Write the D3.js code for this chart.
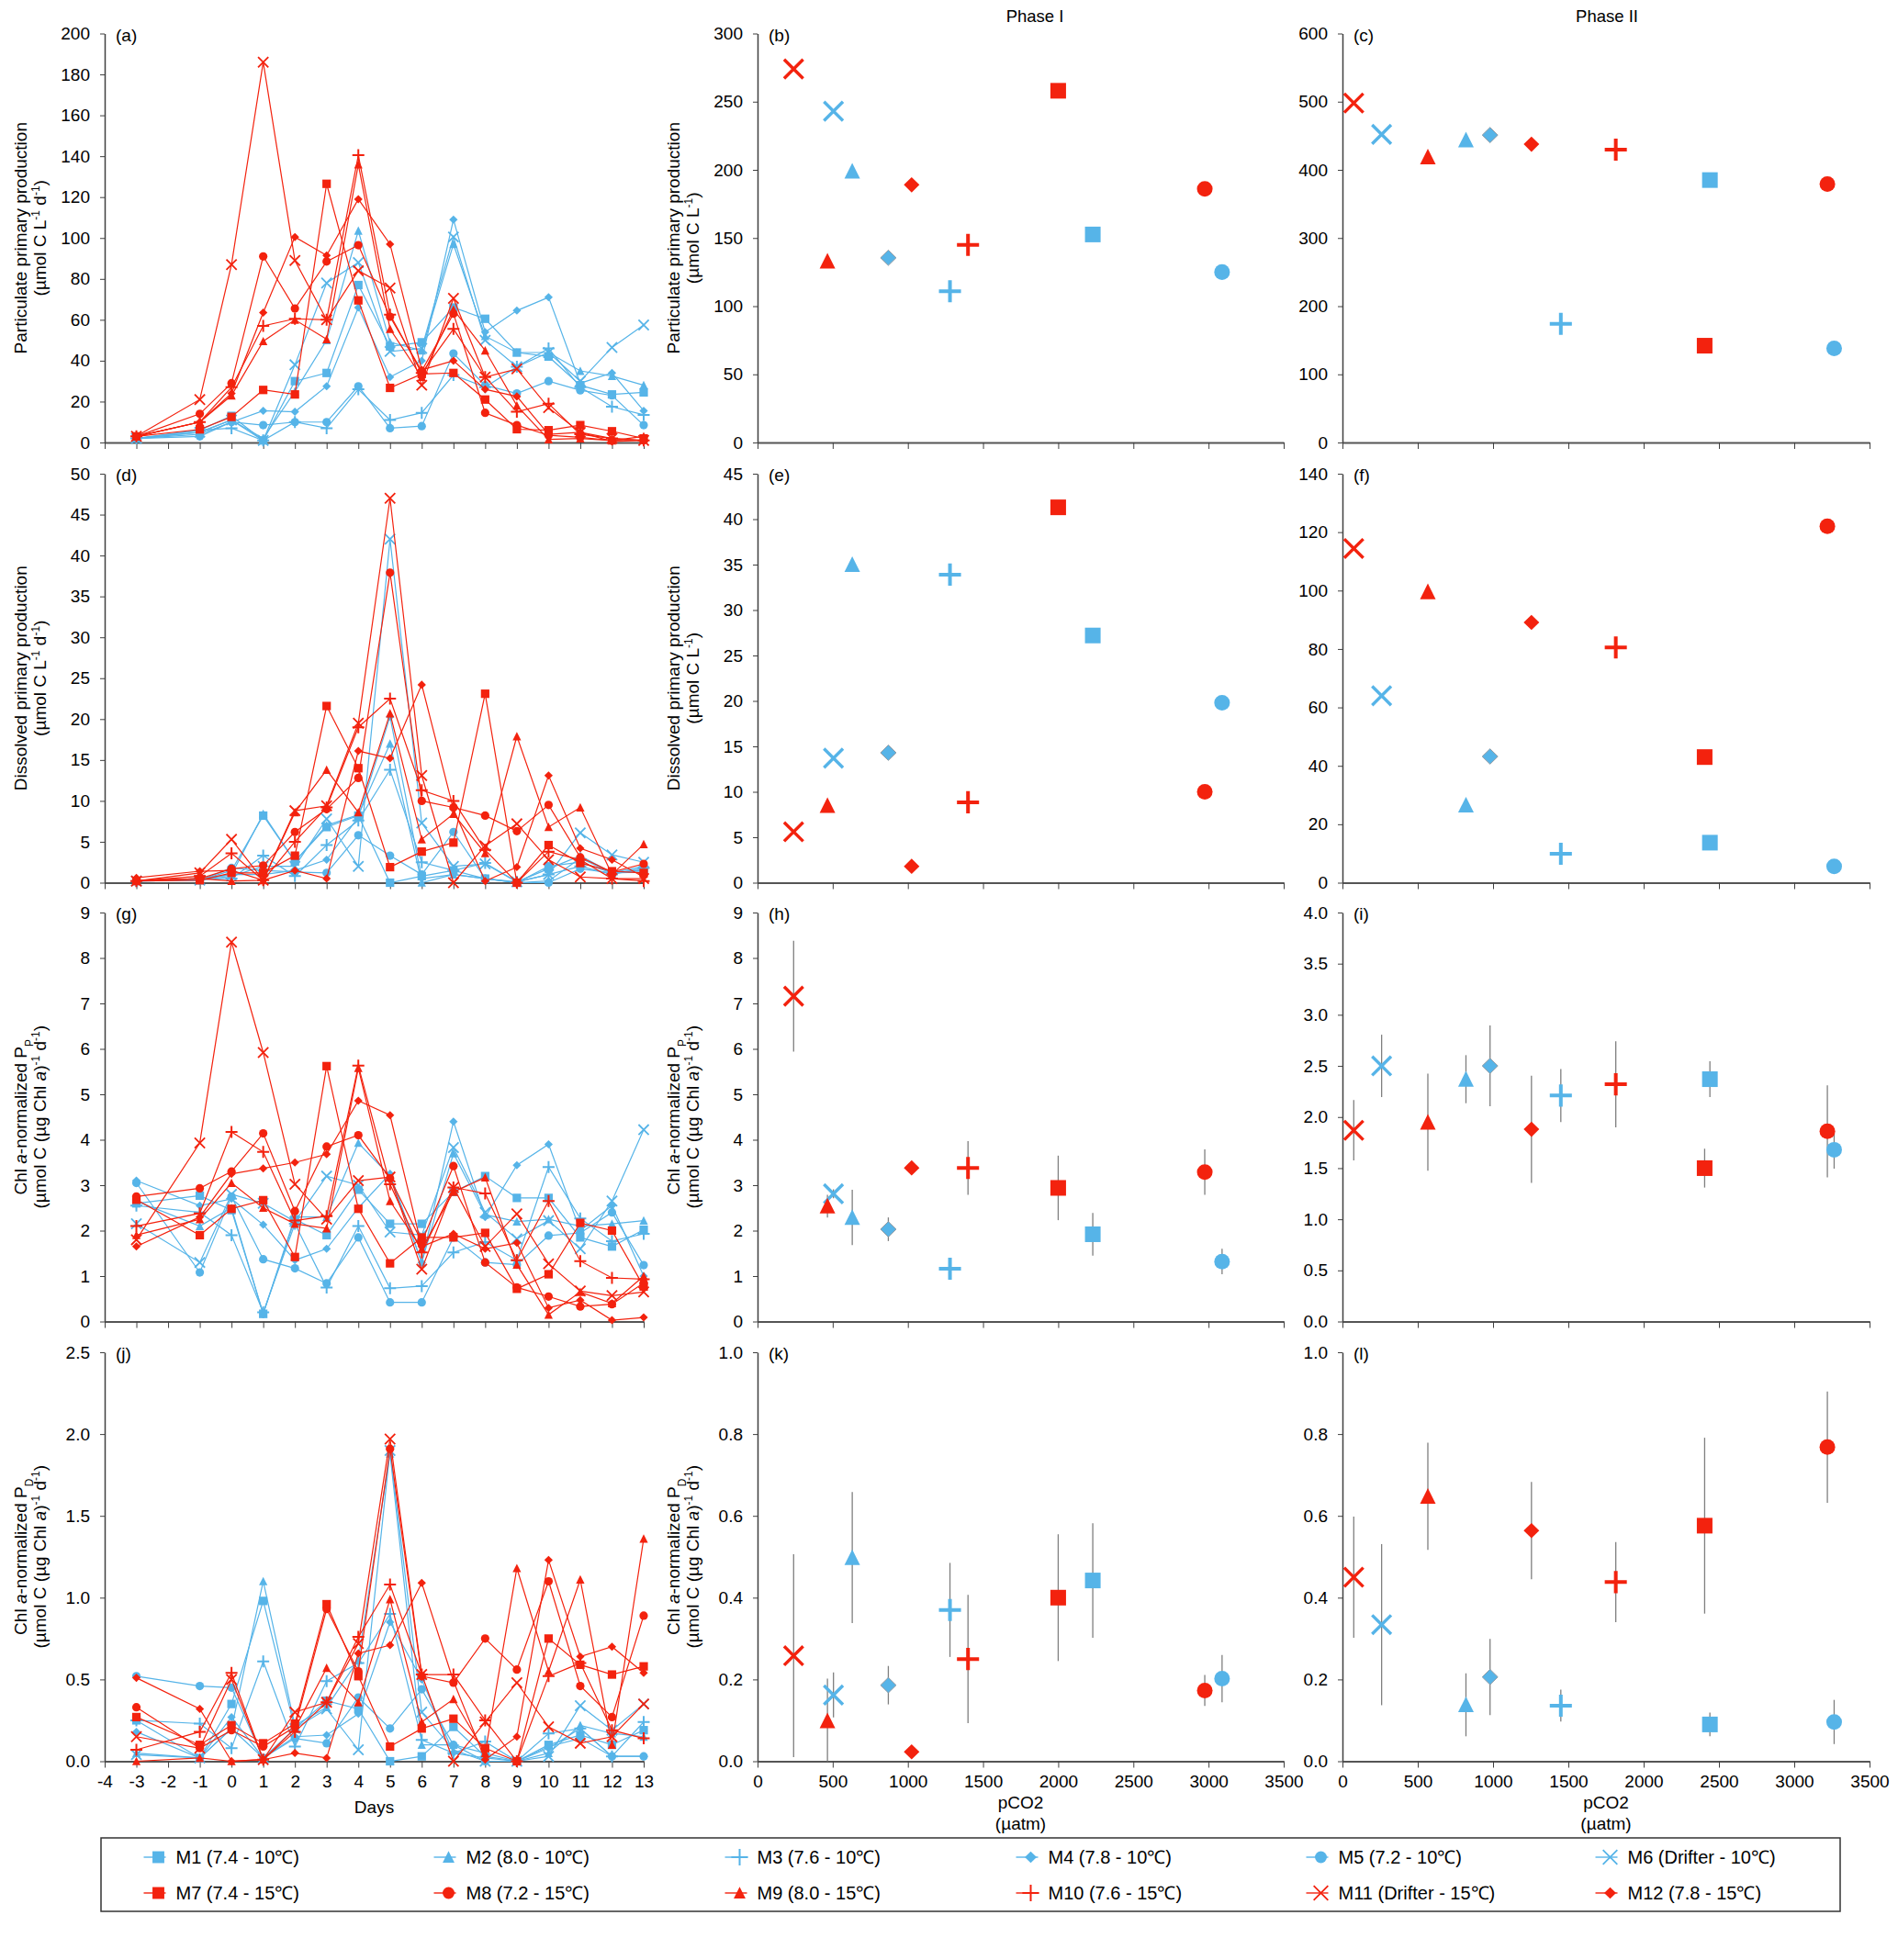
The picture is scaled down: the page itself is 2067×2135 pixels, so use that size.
<!DOCTYPE html>
<html>
<head>
<meta charset="utf-8">
<script src="https://cdn.jsdelivr.net/npm/d3@7"></script>
<style>
body { margin: 0; background: #fff; }
svg { font-family: "Liberation Sans", Arial, sans-serif; }
</style>
</head>
<body>
<svg id="chart" width="2067" height="2135"></svg>
<script>

// ---- data ----
var days = [-3, -1, 0, 1, 2, 3, 4, 5, 6, 7, 8, 9, 10, 11, 12, 13];
var dayTicks = [-4, -3, -2, -1, 0, 1, 2, 3, 4, 5, 6, 7, 8, 9, 10, 11, 12, 13];
var pco2Ticks = [0, 500, 1000, 1500, 2000, 2500, 3000, 3500];

var names = ["M1 (7.4 - 10\u2103)", "M2 (8.0 - 10\u2103)", "M3 (7.6 - 10\u2103)", "M4 (7.8 - 10\u2103)", "M5 (7.2 - 10\u2103)", "M6 (Drifter - 10\u2103)",
             "M7 (7.4 - 15\u2103)", "M8 (7.2 - 15\u2103)", "M9 (8.0 - 15\u2103)", "M10 (7.6 - 15\u2103)", "M11 (Drifter - 15\u2103)", "M12 (7.8 - 15\u2103)"];
var shapes = ["square", "triangle", "plus", "diamond", "circle", "x",
              "square", "circle", "triangle", "plus", "x", "diamond"];

// (a) particulate primary production per day, M1..M12
var ppDaily = [
  [2, 6, 13, 1, 30, 34, 77, 47, 49, 66, 60.5, 44, 42, 28, 23.5, 24.5],
  [2, 5, 11, 2, 25, 50, 103.5, 49, 45, 97, 52, 44, 44, 35, 32.5, 28],
  [2, 6, 7, 1, 10, 7, 26, 11, 14.5, 33, 27, 37, 46, 27, 17.5, 13.5],
  [2, 4, 10, 15.5, 15, 27.5, 66, 32, 40, 109, 54, 64.5, 71, 29, 34, 15.5],
  [2, 3, 10, 8.5, 10, 10, 27.5, 7, 8, 43.5, 28, 24, 30, 25.5, 23, 8.5],
  [2, 5, 11, 1, 38, 78, 88, 44.5, 46, 100.5, 50, 37, 44, 30, 46.5, 57.5],
  [3, 6.4, 12.5, 25.7, 23.5, 126.5, 69.5, 26.7, 33.5, 34, 21, 6.5, 6, 8.5, 5.5, 2],
  [3, 14, 29, 91, 65.5, 88.5, 96.5, 61.5, 35, 63, 14.5, 8.5, 3.5, 2.5, 1, 1],
  [3, 10, 23, 49.5, 60, 50.5, 136, 55.5, 32, 65, 45, 18, 1.5, 2, 1, 3],
  [3, 10, 27, 57, 60.5, 60, 140.5, 62.5, 34, 55.5, 32, 15, 19, 4, 2, 1],
  [3, 21, 87, 186, 89, 60, 84, 75.5, 28, 70.5, 32, 36, 17, 5, 2, 1],
  [3, 10, 24, 63.5, 100.5, 91.5, 119, 97, 35.5, 40, 26, 22.5, 4, 5, 0.5, 1]
];

// (d) dissolved primary production per day
var dpDaily = [
  [0.2, 0.3, 1.5, 8.2, 2.6, 6.8, 8.2, 0, 0.8, 1.5, 0.5, 0, 2, 2.5, 1.2, 1.5],
  [0.2, 0.5, 1, 8.4, 2.6, 7, 8.3, 17, 0, 1, 0.5, 0.1, 1.7, 3.3, 1.2, 2],
  [0.2, 0.5, 0.5, 3.3, 0.8, 4.6, 7.6, 13.8, 2.5, 1.5, 2.4, 0.1, 1, 2, 1, 1.8],
  [0.2, 0.4, 1, 1, 1.5, 2.8, 8, 20.3, 0.5, 1, 0.5, 0, 0.2, 3, 1.2, 1.6],
  [0.2, 0.3, 1.8, 1.5, 1.3, 1.2, 5.8, 3.3, 1, 6.2, 0.5, 0, 0, 1.7, 1.2, 1.3],
  [0.2, 0.3, 0.8, 2, 2, 7.8, 2, 42, 7.3, 2, 2.3, 0.1, 1, 6.1, 3.4, 2.5],
  [0.2, 0.3, 1.2, 1.2, 3.3, 21.6, 14, 1.9, 3.8, 4.9, 23.1, 0, 4.6, 2.4, 1.4, 1.2],
  [0.3, 0.5, 1.7, 2.1, 6.2, 9, 12.8, 37.9, 10, 9.2, 8.2, 6.3, 9.5, 3.1, 1.3, 2.3],
  [0.2, 0.5, 0.2, 0.3, 8.6, 13.8, 8.6, 20.7, 5.3, 8.4, 3.6, 17.9, 6.8, 9.2, 1, 4.7],
  [0.2, 0.8, 3.6, 0.3, 5, 9.2, 19, 22.5, 11.3, 10, 4, 0, 3.8, 2.8, 0.5, 0.2],
  [0.2, 1.2, 5.3, 0.3, 8.8, 9.4, 19.5, 47, 13.1, 0, 4.5, 7.2, 2.8, 0.7, 0.5, 0.5],
  [0.6, 1.4, 1.5, 0.3, 1.5, 0.5, 16.1, 15.2, 24.2, 9, 0.2, 1.9, 13.1, 4.2, 2.8, 0.7]
];

// (g) Chl a-normalized PP per day
var chlPPDaily = [
  [2.6, 2.77, 2.45, 0.17, 2.25, 1.9, 2.9, 2.15, 2.15, 2.85, 3.2, 2.72, 2.72, 1.85, 1.65, 2.02],
  [2.65, 2.1, 2.5, 0.17, 2.3, 2.3, 3.93, 3.2, 1.3, 3.7, 2.35, 2.2, 2.25, 2.1, 2.15, 2.22],
  [2.55, 2.4, 1.9, 0.2, 2.15, 0.75, 2.1, 0.73, 0.78, 1.52, 1.75, 1.35, 3.4, 2.27, 1.77, 1.93],
  [3.1, 2.55, 2.7, 2.13, 1.35, 1.6, 2.5, 3.25, 1.3, 4.4, 2.3, 3.44, 3.9, 2.0, 2.55, 1.0],
  [3.05, 1.08, 2.75, 1.37, 1.17, 0.84, 1.85, 0.42, 0.42, 1.85, 1.3, 1.25, 1.89, 1.95, 2.4, 1.24],
  [2.15, 1.3, 2.8, 2.6, 2.2, 3.2, 3.0, 1.97, 1.9, 3.83, 2.4, 1.82, 2.22, 1.6, 2.65, 4.22],
  [2.68, 1.9, 2.48, 2.67, 1.42, 5.62, 2.48, 1.28, 1.85, 1.85, 1.95, 0.72, 1.04, 2.17, 2.0, 0.77],
  [2.75, 2.93, 3.3, 4.14, 2.43, 3.85, 4.1, 3.15, 1.75, 3.42, 1.3, 0.75, 0.55, 0.33, 0.38, 0.85],
  [1.9, 2.25, 3.05, 2.5, 2.15, 2.05, 5.58, 2.65, 1.6, 2.85, 3.17, 1.25, 0.15, 0.65, 0.4, 1.0],
  [2.1, 2.38, 4.17, 3.73, 2.22, 2.32, 5.63, 3.02, 1.52, 2.95, 2.82, 1.35, 2.65, 1.33, 0.96, 0.93],
  [1.8, 3.93, 8.35, 5.92, 3.02, 2.25, 3.1, 3.18, 1.15, 2.95, 1.65, 2.37, 1.27, 0.67, 0.57, 0.65],
  [1.65, 2.3, 3.25, 3.37, 3.5, 3.68, 4.86, 4.54, 1.65, 1.93, 1.6, 1.73, 0.3, 0.47, 0.03, 0.09]
];

// (j) Chl a-normalized PD per day
var chlPDDaily = [
  [0.25, 0.02, 0.35, 0.98, 0.2, 0.37, 0.32, 0.0, 0.03, 0.21, 0.03, 0.0, 0.1, 0.16, 0.1, 0.19],
  [0.05, 0.02, 0.2, 1.1, 0.22, 0.33, 0.62, 1.88, 0.1, 0.1, 0.05, 0.0, 0.05, 0.22, 0.17, 0.15],
  [0.25, 0.23, 0.08, 0.61, 0.09, 0.49, 0.6, 0.9, 0.13, 0.05, 0.12, 0.0, 0.17, 0.2, 0.03, 0.24],
  [0.18, 0.02, 0.27, 0.02, 0.15, 0.16, 0.29, 0.85, 0.5, 0.05, 0.02, 0.0, 0.08, 0.2, 0.03, 0.03],
  [0.52, 0.46, 0.45, 0.02, 0.14, 0.11, 0.39, 0.2, 0.44, 0.1, 0.0, 0.0, 0.09, 0.14, 0.03, 0.03],
  [0.04, 0.02, 0.2, 0.02, 0.2, 0.32, 0.07, 1.9, 0.3, 0.07, 0.0, 0.0, 0.03, 0.34, 0.19, 0.35],
  [0.27, 0.1, 0.22, 0.11, 0.23, 0.96, 0.52, 0.09, 0.2, 0.26, 0.08, 0.0, 0.75, 0.59, 0.53, 0.58],
  [0.33, 0.08, 0.19, 0.09, 0.21, 0.93, 0.55, 1.91, 0.52, 0.48, 0.75, 0.56, 1.1, 0.46, 0.27, 0.89],
  [0.0, 0.02, 0.0, 0.01, 0.2, 0.57, 0.36, 0.99, 0.24, 0.38, 0.05, 1.18, 0.55, 1.11, 0.1, 1.36],
  [0.07, 0.18, 0.54, 0.01, 0.18, 0.36, 0.76, 1.08, 0.53, 0.53, 0.25, 0.0, 0.52, 0.6, 0.19, 0.14],
  [0.15, 0.08, 0.5, 0.01, 0.3, 0.36, 0.72, 1.97, 0.53, 0.0, 0.24, 0.48, 0.21, 0.11, 0.15, 0.35],
  [0.51, 0.32, 0.0, 0.01, 0.05, 0.02, 0.66, 0.71, 1.09, 0.49, 0.01, 0.15, 1.23, 0.64, 0.7, 0.54]
];

// phase means vs pCO2, M1..M12
var pco2PhaseI = [2230, 630, 1280, 870, 3090, 505, 2000, 2975, 465, 1400, 240, 1025];
var pco2PhaseII = [2440, 820, 1450, 980, 3265, 260, 2405, 3220, 567, 1815, 75, 1255];

var ppPhaseI = [152.6, 199, 111, 135.5, 125, 243, 258, 186, 133, 145, 274, 189];
var ppPhaseII = [385, 444, 174, 451, 138, 452, 142, 379, 419, 429.5, 498, 437.6];

var dpPhaseI = [27.2, 35, 33.9, 14.3, 19.8, 13.7, 41.3, 10, 8.5, 8.85, 5.6, 1.8];
var dpPhaseII = [13.7, 26.6, 9.9, 43.2, 5.6, 64, 43, 122, 99.6, 80.5, 114.4, 89.1];

var chlPPPhaseI = [1.92, 2.29, 1.16, 2.03, 1.32, 2.81, 2.94, 3.29, 2.54, 3.38, 7.16, 3.38];
var chlPPErrI = [0.47, 0.61, 0.24, 0.26, 0.28, 0.1, 0.71, 0.5, 0.25, 0.59, 1.22, 0.05];
var chlPPPhaseII = [2.37, 2.37, 2.21, 2.50, 1.68, 2.50, 1.50, 1.86, 1.95, 2.32, 1.87, 1.88];
var chlPPErrII = [0.175, 0.235, 0.26, 0.395, 0.185, 0.305, 0.19, 0.45, 0.475, 0.42, 0.295, 0.525];

var chlPDPhaseI = [0.442, 0.498, 0.37, 0.186, 0.202, 0.162, 0.40, 0.173, 0.099, 0.25, 0.258, 0.023];
var chlPDErrI = [0.14, 0.16, 0.115, 0.047, 0.058, 0.055, 0.155, 0.038, 0.103, 0.157, 0.248, 0.005];
var chlPDPhaseII = [0.09, 0.138, 0.136, 0.206, 0.096, 0.334, 0.576, 0.768, 0.648, 0.438, 0.45, 0.564];
var chlPDErrII = [0.029, 0.077, 0.039, 0.093, 0.054, 0.197, 0.215, 0.136, 0.131, 0.098, 0.148, 0.119];

// ---- drawing ----
var svg = d3.select("#chart");
var blue = "#56B4E8";
var red = "#F3220E";
var colX = [[114, 701], [825, 1398], [1462, 2036]];
var rowTop = [36.5, 516, 994, 1473];
var panelH = 445.5;

function seriesColor(i) { return i < 6 ? blue : red; }

// k = scale factor (1 for the daily panels, ~1.85 for scatter, ~1.4 for legend)
function addMarker(g, shape, color, k) {
  var s = 4.6 * k;
  if (shape == "square") {
    g.append("rect").attr("x", -s).attr("y", -s).attr("width", 2 * s).attr("height", 2 * s).attr("fill", color);
  } else if (shape == "circle") {
    g.append("circle").attr("r", s).attr("fill", color);
  } else if (shape == "triangle") {
    g.append("path").attr("d", "M0," + (-s * 1.05) + "L" + s + "," + (s * 0.95) + "L" + (-s) + "," + (s * 0.95) + "Z").attr("fill", color);
  } else if (shape == "diamond") {
    g.append("path").attr("d", "M0," + (-s * 0.98) + "L" + s + ",0L0," + (s * 0.98) + "L" + (-s) + ",0Z").attr("fill", color);
  } else if (shape == "plus") {
    var p = 6.5 * k;
    g.append("path").attr("d", "M" + (-p) + ",0H" + p + "M0," + (-p) + "V" + p)
      .attr("stroke", color).attr("stroke-width", k > 1.5 ? 4 : 2).attr("fill", "none");
  } else if (shape == "x") {
    var w = 5.6 * k;
    g.append("path").attr("d", "M" + (-w) + "," + (-w) + "L" + w + "," + w + "M" + w + "," + (-w) + "L" + (-w) + "," + w)
      .attr("stroke", color).attr("stroke-width", k > 1.5 ? 3.4 : 1.8).attr("fill", "none");
  }
}

function minusFormat(fmt) {
  return function (d) { return d3.format(fmt)(d).replace("\u2212", "-"); };
}

function styleAxis(a) {
  a.selectAll("text").attr("font-size", 19).attr("fill", "#000").attr("font-family", "Liberation Sans, Arial, sans-serif");
  a.selectAll("line").attr("stroke", "#404040");
}

function drawAxes(g, x, y, xTicks, yTicks, yFmt, showX, x0) {
  var ya = g.append("g").attr("transform", "translate(" + x0 + ",0)")
    .call(d3.axisLeft(y).tickValues(yTicks).tickFormat(minusFormat(yFmt)).tickSize(5).tickSizeOuter(0).tickPadding(11));
  ya.select(".domain").attr("stroke", "#404040").attr("stroke-width", 1.5);
  styleAxis(ya);
  var xa = g.append("g").attr("transform", "translate(0," + y(0) + ")")
    .call(d3.axisBottom(x).tickValues(xTicks).tickSize(7).tickSizeOuter(0).tickPadding(8)
      .tickFormat(showX ? minusFormat("d") : function () { return ""; }));
  xa.select(".domain").attr("stroke", "#555").attr("stroke-width", 2);
  styleAxis(xa);
}

// lines: array of lines; each line is array of [text, kind] with kind "", "sup", "sub", "i"
function yTitle(x0, top, lines) {
  var cy = top + panelH / 2;
  lines.forEach(function (parts, li) {
    var bx = x0 - 85 + li * 21;
    var t = svg.append("text").attr("transform", "translate(" + bx + "," + cy + ") rotate(-90)")
      .attr("text-anchor", "middle").attr("font-size", 19).attr("fill", "#000");
    parts.forEach(function (p) {
      var ts = t.append("tspan").text(p[0]);
      if (p[1] == "sup") ts.attr("baseline-shift", "super").attr("font-size", 12);
      if (p[1] == "sub") ts.attr("baseline-shift", "sub").attr("font-size", 12);
      if (p[1] == "i") ts.attr("font-style", "italic");
    });
  });
}

function panelLabel(x0, top, txt) {
  svg.append("text").attr("x", x0 + 12).attr("y", top + 8).attr("font-size", 19).attr("fill", "#000").text(txt);
}

function drawDaily(row, data, yMax, yStep, yFmt, label, showX) {
  var top = rowTop[row];
  var x = d3.scaleLinear().domain([-4, 13]).range(colX[0]);
  var y = d3.scaleLinear().domain([0, yMax]).range([top + panelH, top]);
  var g = svg.append("g");
  drawAxes(g, x, y, dayTicks, d3.range(0, yMax + yStep / 2, yStep), yFmt, showX, colX[0][0]);
  var line = d3.line().x(function (d, i) { return x(days[i]); }).y(function (d) { return y(d); });
  data.forEach(function (vals, si) {
    var sg = g.append("g");
    sg.append("path").attr("d", line(vals)).attr("fill", "none")
      .attr("stroke", seriesColor(si)).attr("stroke-width", 1.2);
    vals.forEach(function (v, i) {
      var mg = sg.append("g").attr("transform", "translate(" + x(days[i]) + "," + y(v) + ")");
      addMarker(mg, shapes[si], seriesColor(si), 1);
    });
  });
  panelLabel(colX[0][0], top, label);
}

function drawScatter(col, row, pco2, vals, errs, yMax, yStep, yFmt, label, showX) {
  var top = rowTop[row];
  var x = d3.scaleLinear().domain([0, 3500]).range(colX[col]);
  var y = d3.scaleLinear().domain([0, yMax]).range([top + panelH, top]);
  var g = svg.append("g");
  drawAxes(g, x, y, pco2Ticks, d3.range(0, yMax + yStep / 2, yStep), yFmt, showX, colX[col][0]);
  if (errs) {
    vals.forEach(function (v, i) {
      g.append("line").attr("x1", x(pco2[i])).attr("x2", x(pco2[i]))
        .attr("y1", y(Math.min(yMax, v + errs[i]))).attr("y2", y(Math.max(0, v - errs[i])))
        .attr("stroke", "#7f7f7f").attr("stroke-width", 1.3);
    });
  }
  vals.forEach(function (v, i) {
    var mg = g.append("g").attr("transform", "translate(" + x(pco2[i]) + "," + y(v) + ")");
    addMarker(mg, shapes[i], seriesColor(i), 1.85);
    if (i == 3) mg.select("path").attr("stroke", "#8f9aa3").attr("stroke-width", 1);
  });
  panelLabel(colX[col][0], top, label);
}

var unitPD = [["(µmol C L", ""], ["-1", "sup"], [" d", ""], ["-1", "sup"], [")", ""]];
var unitP = [["(µmol C L", ""], ["-1", "sup"], [")", ""]];
var unitChl = [["(µmol C (µg Chl ", ""], ["a", "i"], [")", ""], ["-1", "sup"], [" d", ""], ["-1", "sup"], [")", ""]];
var chlPPTitle = [["Chl ", ""], ["a", "i"], ["-normalized P", ""], ["P", "sub"]];
var chlPDTitle = [["Chl ", ""], ["a", "i"], ["-normalized P", ""], ["D", "sub"]];

// left column
drawDaily(0, ppDaily, 200, 20, "d", "(a)", false);
drawDaily(1, dpDaily, 50, 5, "d", "(d)", false);
drawDaily(2, chlPPDaily, 9, 1, "d", "(g)", false);
drawDaily(3, chlPDDaily, 2.5, 0.5, ".1f", "(j)", true);
yTitle(colX[0][0], rowTop[0], [[["Particulate primary production", ""]], unitPD]);
yTitle(colX[0][0], rowTop[1], [[["Dissolved primary production", ""]], unitPD]);
yTitle(colX[0][0], rowTop[2], [chlPPTitle, unitChl]);
yTitle(colX[0][0], rowTop[3], [chlPDTitle, unitChl]);

// middle column, phase I
drawScatter(1, 0, pco2PhaseI, ppPhaseI, null, 300, 50, "d", "(b)", false);
drawScatter(1, 1, pco2PhaseI, dpPhaseI, null, 45, 5, "d", "(e)", false);
drawScatter(1, 2, pco2PhaseI, chlPPPhaseI, chlPPErrI, 9, 1, "d", "(h)", false);
drawScatter(1, 3, pco2PhaseI, chlPDPhaseI, chlPDErrI, 1.0, 0.2, ".1f", "(k)", true);
yTitle(colX[1][0], rowTop[0], [[["Particulate primary production", ""]], unitP]);
yTitle(colX[1][0], rowTop[1], [[["Dissolved primary production", ""]], unitP]);
yTitle(colX[1][0], rowTop[2], [chlPPTitle, unitChl]);
yTitle(colX[1][0], rowTop[3], [chlPDTitle, unitChl]);

// right column, phase II
drawScatter(2, 0, pco2PhaseII, ppPhaseII, null, 600, 100, "d", "(c)", false);
drawScatter(2, 1, pco2PhaseII, dpPhaseII, null, 140, 20, "d", "(f)", false);
drawScatter(2, 2, pco2PhaseII, chlPPPhaseII, chlPPErrII, 4.0, 0.5, ".1f", "(i)", false);
drawScatter(2, 3, pco2PhaseII, chlPDPhaseII, chlPDErrII, 1.0, 0.2, ".1f", "(l)", true);

// column titles and x titles
svg.append("text").attr("x", 1127).attr("y", 24).attr("text-anchor", "middle").attr("font-size", 18.5).text("Phase I");
svg.append("text").attr("x", 1750).attr("y", 24).attr("text-anchor", "middle").attr("font-size", 18.5).text("Phase II");
svg.append("text").attr("x", (colX[0][0] + colX[0][1]) / 2).attr("y", 1975).attr("text-anchor", "middle").attr("font-size", 19).text("Days");
[1, 2].forEach(function (c) {
  var cx = (colX[c][0] + colX[c][1]) / 2;
  svg.append("text").attr("x", cx).attr("y", 1970).attr("text-anchor", "middle").attr("font-size", 19).text("pCO2");
  svg.append("text").attr("x", cx).attr("y", 1993).attr("text-anchor", "middle").attr("font-size", 19).text("(µatm)");
});

// legend
var legX = [172.5, 488.5, 805.5, 1122.5, 1438.5, 1753.5];
var legY = [2023, 2062];
svg.append("rect").attr("x", 110).attr("y", 2002).attr("width", 1894).attr("height", 80)
  .attr("fill", "none").attr("stroke", "#333").attr("stroke-width", 1.5);
names.forEach(function (n, i) {
  var cx = legX[i % 6], cy = legY[Math.floor(i / 6)];
  var lg = svg.append("g").attr("transform", "translate(" + cx + "," + cy + ")");
  lg.append("line").attr("x1", -16).attr("x2", 8).attr("stroke", seriesColor(i)).attr("stroke-width", 1.4);
  addMarker(lg, shapes[i], seriesColor(i), 1.4);
  svg.append("text").attr("x", cx + 19).attr("y", cy + 7).attr("font-size", 20).text(n);
});

</script>
</body>
</html>
